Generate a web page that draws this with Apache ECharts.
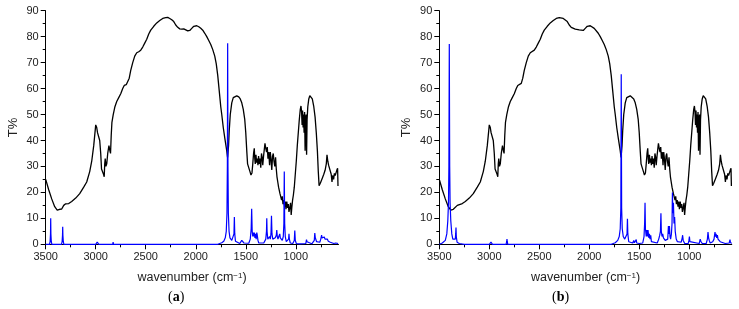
<!DOCTYPE html>
<html>
<head>
<meta charset="utf-8">
<script src="https://cdn.jsdelivr.net/npm/echarts@6/dist/echarts.min.js"></script>
<style>
html,body{margin:0;padding:0;background:#fff;}
#chart{width:739px;height:309px;}
</style>
</head>
<body>
<div id="chart"></div>
<script>
// ---- data ----
var xTickLabels = [3500, 3000, 2500, 2000, 1500, 1000];
var xMinorTicks = [3500, 3250, 3000, 2750, 2500, 2250, 2000, 1750, 1500, 1250, 1000, 750];
var panelLabels = ['a', 'b'];

// experimental spectrum (black), [wavenumber, T%]
var expCurve = [
[3500,25],[3470,21],[3440,17.5],[3410,14.5],[3385,13.2],[3360,13.5],[3340,13.6],[3320,15],[3300,15.6],[3270,15.7],
[3240,16.5],[3200,17.8],[3160,19.5],[3120,22],[3090,24],[3060,28],[3040,32],[3020,38],[3005,44],[3000,46],
[2990,45],[2982,43],[2970,43],[2960,40],[2950,35],[2942,29],[2932,28.5],[2922,27],[2915,26],[2910,31],
[2905,33],[2898,30],[2890,31],[2880,35],[2868,38],[2858,36],[2852,35],[2845,42],[2838,47],[2825,50],
[2808,53],[2790,55],[2770,56.5],[2750,58],[2730,60],[2715,61.2],[2695,61.5],[2680,62],[2665,64],[2650,67],
[2630,70],[2610,72.5],[2590,73.8],[2570,74.2],[2550,74.8],[2530,76],[2510,77.5],[2490,79],[2470,81],[2450,82.5],
[2420,84],[2390,85.3],[2360,86.2],[2330,87],[2300,87.3],[2280,87.4],[2260,87],[2240,86.5],[2220,85.8],[2200,84.5],
[2180,83.6],[2160,83],[2140,82.9],[2120,83],[2100,82.6],[2080,82.2],[2060,82.4],[2040,83.2],[2020,84],[2005,84.5],
[1990,84.2],[1970,83.8],[1950,83.2],[1930,82.5],[1910,81.3],[1890,80],[1870,78.5],[1850,77],[1830,75],[1810,72.5],
[1795,69.5],[1780,65],[1765,59],[1750,53],[1740,50],[1725,45],[1710,41],[1700,38.5],[1690,36],[1682,33.5],
[1678,33],[1672,38],[1665,44],[1655,50],[1640,54.5],[1625,56.5],[1610,57.2],[1590,57.2],[1570,56.8],[1555,56],
[1540,54.5],[1525,52],[1510,48],[1500,43],[1490,36],[1482,31],[1475,30.5],[1465,30.8],[1458,28],[1448,26.7],
[1438,27.5],[1430,31],[1422,35],[1415,37],[1410,33],[1405,31],[1398,34.5],[1392,31.5],[1385,33],[1378,30.5],
[1372,34],[1365,31],[1358,33],[1350,29.5],[1343,35],[1336,33.5],[1330,30.5],[1322,34],[1315,36.5],[1308,38.9],
[1300,37],[1292,35.5],[1285,37.5],[1278,33],[1270,35.5],[1262,30.5],[1255,35.5],[1248,33],[1240,28.6],[1232,34],
[1225,35],[1218,32],[1210,30],[1202,33.5],[1195,29],[1188,26],[1180,24],[1172,22],[1165,22.5],[1158,19.5],
[1150,20],[1142,17],[1135,18.5],[1128,15.5],[1120,17],[1112,14.5],[1105,16.5],[1098,13.5],[1090,16.5],[1082,14],
[1075,15.5],[1068,12.5],[1060,14],[1052,16],[1046,11.3],[1040,14],[1032,17],[1024,19],[1015,22],[1005,27],
[995,32],[985,38],[975,43],[965,48],[955,52],[948,53.3],[942,51],[937,46],[932,51.5],[927,45],
[922,50],[917,43],[912,51],[907,36],[902,48],[897,50],[892,34.5],[887,48],[880,53],[870,56],
[860,57.3],[850,57],[835,56],[820,53],[807,49],[795,43],[784,36],[775,28],[767,22.6],[755,23.5],
[740,25],[720,27],[707,28.5],[695,31],[688,34.5],[680,32],[672,30.5],[664,31],[654,30],[646,27],
[638,24],[632,26.5],[622,25],[614,27.3],[606,26.5],[598,27],[590,28.5],[582,29.3],[578,22.5]
];

// calculated spectrum, panel (a)
var calcA = [
[3500,0],[3462,0],[3456,1],[3452,4],[3450,10],[3448,4],[3444,1],[3438,0],
[3342,0],[3336,1],[3332,3.5],[3330,6.8],[3328,3.5],[3324,1],[3318,0],
[3000,0],[2995,0.6],[2985,0.8],[2975,0.4],[2968,0],
[2830,0],[2826,0.8],[2822,0],
[1780,0],[1740,0.6],[1720,1.2],[1705,2.5],[1695,5],[1688,12],[1684,30],[1681,77.5],[1678,30],[1674,12],[1667,5],
[1658,2.5],[1640,1.5],[1625,2],[1618,4],[1614,10.5],[1610,4],[1603,1.2],[1590,0.5],[1560,0.3],[1545,1],
[1540,1.5],[1535,0.8],[1527,1.8],[1523,2],[1518,0.5],[1500,0.2],
[1470,0.4],[1455,2],[1446,6],[1441,13.7],[1436,5],[1430,3],[1425,4.5],[1420,3],[1415,4.5],[1408,2.5],
[1402,4],[1396,2],[1390,4.5],[1385,3.5],[1378,1.5],[1370,0.5],[1355,0.3],
[1320,0.5],[1300,2],[1293,5],[1290,10],[1287,5],[1280,2],[1270,1.5],[1262,3],[1255,2],[1248,4],
[1243,11],[1238,4],[1230,2],[1222,2.5],[1215,1.5],[1205,2.5],[1195,3.5],[1190,5.5],[1185,3],[1178,2],
[1170,3],[1160,4],[1155,2.5],[1145,2],[1135,1.5],[1125,3],[1119,8],[1115,28],[1111,8],[1105,3],
[1095,1],[1080,0.8],[1072,2],[1068,4],[1064,2],[1055,0.5],[1030,0.3],[1015,1.5],[1010,5.3],[1005,1.5],
[995,0.3],[960,0.2],[900,0.3],[893,1.8],[888,1],[880,1.2],[875,0.3],[840,0.2],[815,1.5],[810,4.3],
[805,2.5],[798,3],[792,1],[780,0.5],[760,0.8],[750,2],[742,3.5],[737,2.5],[730,3],[722,2.2],
[715,2.8],[708,2],[700,2.5],[692,1.8],[685,2],[675,1.2],[665,1.5],[655,0.8],[640,0.5],[620,0.3],
[600,0.5],[592,1],[588,0.6],[577,0.3]
];

// calculated spectrum, panel (b)
var calcB = [
[3500,0],[3470,0.5],[3440,1.5],[3425,4],[3415,9],[3408,16],[3404,30],[3400,77.2],[3396,30],[3392,16],
[3385,9],[3375,4],[3365,2],[3355,1.5],[3340,2],[3336,4],[3333,6.5],[3330,3],[3322,0.8],[3300,0.3],[3250,0],
[3000,0],[2993,0.7],[2983,0.8],[2975,0.5],[2968,0],
[2832,0],[2826,1],[2823,2],[2820,1],[2815,0],
[1780,0],[1740,0.6],[1715,1.5],[1700,3],[1690,6],[1684,14],[1680,65.5],[1676,14],[1670,6],[1660,3],
[1645,2],[1630,2],[1622,4],[1618,9.8],[1614,4],[1605,1],[1590,0.3],[1565,0.5],[1555,1.5],[1548,0.6],
[1540,1],[1530,1.8],[1525,0.5],[1500,0.3],
[1465,0.5],[1452,3],[1446,8],[1442,16],[1438,6],[1430,3],[1424,5.5],[1418,3],[1412,5.5],[1405,2.5],
[1398,4],[1392,2],[1385,3.5],[1378,1],[1365,0.3],[1320,0.5],[1305,2],[1295,3.5],[1288,5],[1283,12],
[1279,5],[1272,3],[1265,4],[1258,2.5],[1250,3],[1240,1.5],[1230,1],[1215,2],[1208,7],[1203,4],
[1198,7],[1192,3],[1186,2],[1178,4],[1172,8],[1168,20],[1164,12],[1158,16],[1152,8],[1146,10.5],
[1140,5],[1130,2],[1118,1],[1105,0.5],[1080,0.8],[1070,2.5],[1066,3.5],[1060,1.5],[1045,0.3],[1010,0.3],
[1003,1.5],[998,3],[993,1],[985,0.3],[900,0.3],[890,2],[884,1.2],[878,1.5],[870,0.3],[830,0.3],
[818,2],[812,4.7],[806,2.5],[800,1.5],[790,0.5],[765,1],[752,2],[742,4.7],[737,3],[731,4],
[725,2.5],[718,3.5],[712,2],[705,2.5],[698,1.5],[690,1],[680,0.5],[640,0.3],[600,0.5],[592,1.8],
[588,0.8],[577,0.3]
];

// ---- chart ----
var chart = echarts.init(document.getElementById('chart'), null, {renderer: 'canvas'});
var FONT = 'Liberation Sans, Arial, sans-serif';
var TXT = '#222';
var X_MIN = 575, X_MAX = 3500;

function plain(v) { return String(v); }

function grid(left, right) {
  return {left: left, right: right, top: 10.7, bottom: 64.7, containLabel: false};
}
function xMajor(gi) {
  return {
    gridIndex: gi, type: 'value', min: X_MIN, max: X_MAX, inverse: true, position: 'bottom',
    axisLine: {show: true, onZero: false, lineStyle: {color: '#000', width: 1}},
    axisTick: {show: true, length: 5, customValues: xTickLabels, lineStyle: {color: '#000', width: 1}},
    axisLabel: {show: true, customValues: xTickLabels, formatter: plain, color: TXT, fontFamily: FONT, fontSize: 11, margin: 7},
    splitLine: {show: false},
    name: '{n|wavenumber (cm}{s|−1}{n|)}',
    nameLocation: 'middle', nameGap: 27,
    nameTextStyle: {
      rich: {
        n: {fontFamily: FONT, fontSize: 12.5, color: TXT},
        s: {fontFamily: FONT, fontSize: 8, color: TXT, verticalAlign: 'top'}
      }
    }
  };
}
function xMinor(gi) {
  return {
    gridIndex: gi, type: 'value', min: X_MIN, max: X_MAX, inverse: true, position: 'bottom',
    axisLine: {show: true, onZero: false, lineStyle: {color: '#000', width: 1}},
    axisTick: {show: true, length: 3, customValues: xMinorTicks, lineStyle: {color: '#000', width: 1}},
    axisLabel: {show: false},
    splitLine: {show: false}
  };
}
function yAxis(gi) {
  return {
    gridIndex: gi, type: 'value', min: 0, max: 90, interval: 10,
    axisLine: {show: true, onZero: false, lineStyle: {color: '#000', width: 1}},
    axisTick: {show: true, length: 5, lineStyle: {color: '#000', width: 1}},
    minorTick: {show: true, splitNumber: 2, length: 3, lineStyle: {color: '#000', width: 1}},
    axisLabel: {color: TXT, fontFamily: FONT, fontSize: 11, margin: 7, formatter: plain},
    splitLine: {show: false},
    minorSplitLine: {show: false},
    name: 'T%', nameLocation: 'middle', nameGap: 26, nameRotate: 90,
    nameTextStyle: {fontFamily: FONT, fontSize: 13, color: TXT}
  };
}
function lineSeries(data, xi, yi, color, width, z) {
  return {
    type: 'line', data: data, xAxisIndex: xi, yAxisIndex: yi,
    showSymbol: false, symbol: 'none', smooth: false, z: z,
    lineStyle: {color: color, width: width}, clip: true
  };
}
function panelText(letter, x) {
  return {
    type: 'text', left: x, top: 290,
    style: {
      text: '{p|(}{b|' + letter + '}{p|)}',
      rich: {
        p: {fontFamily: 'Liberation Serif, Times New Roman, serif', fontSize: 14, fill: '#000'},
        b: {fontFamily: 'Liberation Serif, Times New Roman, serif', fontSize: 14, fontWeight: 'bold', fill: '#000'}
      }
    }
  };
}

chart.setOption({
  animation: false,
  backgroundColor: '#fff',
  grid: [grid(45.7, 400.7), grid(439.3, 7.3)],
  xAxis: [xMajor(0), xMinor(0), xMajor(1), xMinor(1)],
  yAxis: [yAxis(0), yAxis(1)],
  series: [
    lineSeries(expCurve, 0, 0, '#000', 1.3, 2),
    lineSeries(calcA, 0, 0, '#0000ff', 1.2, 3),
    lineSeries(expCurve, 2, 1, '#000', 1.3, 2),
    lineSeries(calcB, 2, 1, '#0000ff', 1.2, 3)
  ],
  graphic: [panelText(panelLabels[0], 168), panelText(panelLabels[1], 552)]
});
</script>
</body>
</html>
